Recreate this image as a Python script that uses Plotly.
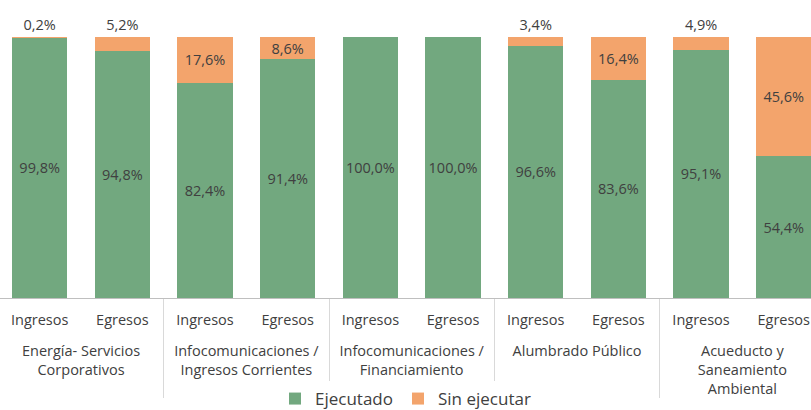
import plotly.graph_objects as go

group_names = [" <br>Energía- Servicios<br>Corporativos",
               " <br>Infocomunicaciones /<br>Ingresos Corrientes",
               " <br>Infocomunicaciones /<br>Financiamiento",
               " <br>Alumbrado Público",
               " <br>Acueducto y<br>Saneamiento<br>Ambiental"]
groups = [g for g in group_names for _ in range(2)]
kinds = ["Ingresos", "Egresos"] * 5
ejecutado = [99.8, 94.8, 82.4, 91.4, 100.0, 100.0, 96.6, 83.6, 95.1, 54.4]
sin_ejecutar = [0.2, 5.2, 17.6, 8.6, 0.0, 0.0, 3.4, 16.4, 4.9, 45.6]
sin_pos = ["outside", "outside", "inside", "inside", "none", "none", "outside", "inside", "outside", "inside"]

def fmt(v):
    return f"{v:.1f}%".replace(".", ",")

GREEN = "#72A87F"
ORANGE = "#F3A46C"
TXT = "#404040"
FONT = "Open Sans"

fig = go.Figure()
fig.add_trace(go.Bar(
    x=[groups, kinds], y=ejecutado, name="Ejecutado", marker=dict(color=GREEN, line=dict(width=0)),
    text=[fmt(v) for v in ejecutado], textposition="inside", insidetextanchor="middle",
    textangle=0, constraintext="none", textfont=dict(color=TXT, size=14.5, family=FONT),
))
fig.add_trace(go.Bar(
    x=[groups, kinds], y=sin_ejecutar, name="Sin ejecutar", marker=dict(color=ORANGE, line=dict(width=0)),
    text=[fmt(v) for v in sin_ejecutar], textposition=sin_pos, insidetextanchor="middle",
    textangle=0, constraintext="none", cliponaxis=False,
    textfont=dict(color=TXT, size=14.5, family=FONT),
))
fig.update_layout(
    width=811, height=410, barmode="stack", bargap=0.33,
    margin=dict(l=0, r=0, t=37, b=112, autoexpand=False),
    paper_bgcolor="white", plot_bgcolor="white",
    font=dict(family=FONT, size=14.5, color=TXT),
    legend=dict(orientation="h", x=0.5, xanchor="center", y=-0.387, yanchor="middle",
                font=dict(size=17, color=TXT), traceorder="normal"),
    uniformtext=dict(minsize=13, mode="show"),
)
fig.update_xaxes(range=[-0.48, 9.33], showline=True, linecolor="#BFBFBF", linewidth=1,
                 showdividers=True, dividercolor="#D9D9D9", dividerwidth=1, automargin=False,
                 tickfont=dict(size=14.5, color=TXT), ticks="", ticklabelstandoff=9)
fig.update_yaxes(range=[0, 100], visible=False, showgrid=False, automargin=False)
fig.write_html("out.html", config={"displayModeBar": False},
               post_script="document.body.style.margin='0px';")
